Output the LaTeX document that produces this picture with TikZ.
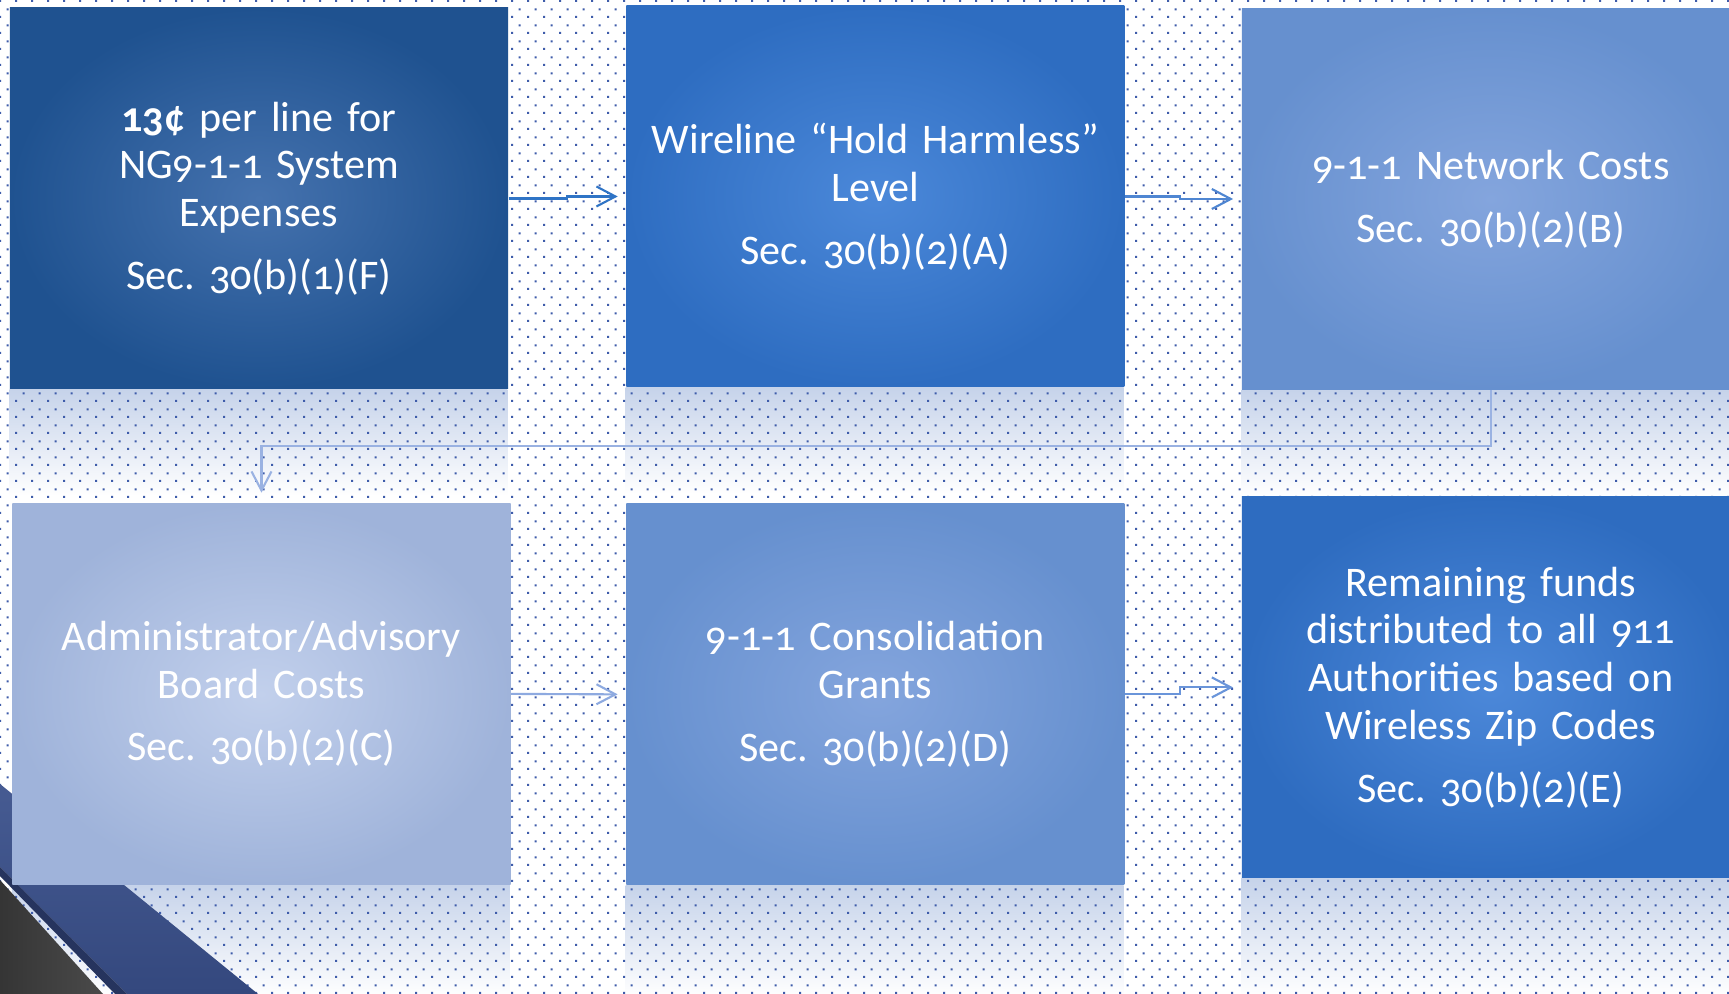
\documentclass[tikz,border=0pt]{standalone}
\usepackage{fontspec}
\setmainfont{Carlito}[Numbers=OldStyle, WordSpace=0.9]
\frenchspacing
\usetikzlibrary{arrows.meta}
\usetikzlibrary{positioning}
\usetikzlibrary{patterns.meta}
\usetikzlibrary{backgrounds}

\definecolor{dotblue}{HTML}{3E5CAA}
\definecolor{reflect}{HTML}{C6D3EA}
\definecolor{bandnavyA}{HTML}{465B92}
\definecolor{bandnavyB}{HTML}{34487E}
\definecolor{banddark}{HTML}{26345E}
\definecolor{cornergrayA}{HTML}{353535}
\definecolor{cornergrayB}{HTML}{4A4A4A}
\definecolor{arrowA}{HTML}{2F74C6}
\definecolor{arrowB}{HTML}{4F86D2}
\definecolor{arrowC}{HTML}{9AB2E2}
\definecolor{arrowD}{HTML}{8EAAE0}
\definecolor{arrowE}{HTML}{6A95DA}

\tikzdeclarepattern{
  name=slidedots,
  type=uncolored,
  bounding box={(0,0) and (0.16,0.16)},
  tile size={(0.16,0.16)},
  code={
    \fill (0,0) rectangle (0.022,0.022);
    \fill (0.08,0.08) rectangle (0.102,0.102);
  }
}

\begin{document}
\begin{tikzpicture}[
    node distance=1.15cm,  % gaps between the boxes
    fundbox/.style={
        rectangle,
        minimum width=4.98cm,
        minimum height=3.81cm,
        text width=4.9cm,
        inner sep=0pt,
        align=center,
        text=white,
        font=\fontsize{12}{13.6}\selectfont
    },
    link/.style={
        -{Straight Barb[length=0.19cm,width=0.2cm]},
        line width=0.6pt,
        shorten >=0.08cm
    },
    mirror/.style={top color=reflect, bottom color=white}
]
    \path[use as bounding box] (0,0) rectangle (17.29,-9.94);

    \node (fixed) [fundbox, inner color={rgb,255:red,69;green,114;blue,174}, outer color={rgb,255:red,31;green,82;blue,144}] at (2.59,-1.985)
        {\textbf{13¢} per line for\\ NG9-1-1 System\\ Expenses\\[0.15cm] Sec. 30(b)(1)(F)};
    \node (holdharm) [fundbox, inner color={rgb,255:red,75;green,136;blue,217}, outer color={rgb,255:red,46;green,109;blue,193}, right=1.17cm of fixed, yshift=0.02cm]
        {Wireline “Hold Harmless”\\ Level\\[0.15cm] Sec. 30(b)(2)(A)};
    \node (network) [fundbox, inner color={rgb,255:red,132;green,165;blue,221}, outer color={rgb,255:red,102;green,144;blue,207}, right=1.16cm of holdharm, yshift=-0.025cm]
        {9-1-1 Network Costs\\[0.15cm] Sec. 30(b)(2)(B)};
    \node (admin) [fundbox, inner color={rgb,255:red,194;green,208;blue,236}, outer color={rgb,255:red,159;green,179;blue,218}, below=1.13cm of fixed, xshift=0.025cm]
        {Administrator/Advisory\\ Board Costs\\[0.15cm] Sec. 30(b)(2)(C)};
    \node (consol) [fundbox, inner color={rgb,255:red,132;green,165;blue,221}, outer color={rgb,255:red,102;green,144;blue,207}, below=1.155cm of holdharm]
        {9-1-1 Consolidation\\ Grants\\[0.15cm] Sec. 30(b)(2)(D)};
    \node (remaining) [fundbox, inner color={rgb,255:red,76;green,136;blue,217}, outer color={rgb,255:red,46;green,108;blue,192}, below=1.06cm of network]
        {Remaining funds\\ distributed to all 911\\ Authorities based on\\ Wireless Zip Codes\\[0.15cm] Sec. 30(b)(2)(E)};

    % Connections
    \draw[link, draw=arrowA] (fixed.east) -- ++(0.58,0) |- (holdharm.west);
    \draw[link, draw=arrowB] (holdharm.east) -- ++(0.55,0) |- (network.west);
    \draw[link, draw=arrowC, shorten >=0.1cm] (network.south) -- ++(0,-0.56) -| (admin.north);
    \draw[link, draw=arrowD] (admin.east) -- (consol.west);
    \draw[link, draw=arrowE] (consol.east) -- ++(0.55,0) |- (remaining.west);

    \begin{scope}[on background layer]
        \fill[white] (0,0) rectangle (17.29,-9.94);
        % reflections under the boxes
        \shade[mirror] (fixed.south west) rectangle ++(4.98,-1.06);
        \shade[mirror] (holdharm.south west) rectangle ++(4.98,-1.06);
        \shade[mirror] (network.south west) rectangle ++(4.98,-1.06);
        \shade[mirror] (admin.south west) rectangle ++(4.98,-1.12);
        \shade[mirror] (consol.south west) rectangle ++(4.98,-1.12);
        \shade[mirror] (remaining.south west) rectangle ++(4.98,-1.18);
        \fill[pattern=slidedots, pattern color=dotblue] (0,0) rectangle (17.29,-9.94);
        % corner bands
        \shade[top color=bandnavyA, bottom color=bandnavyB] (0,-7.84) -- (2.58,-9.94) -- (1.27,-9.94) -- (0,-8.67) -- cycle;
        \fill[banddark] (0,-8.67) -- (1.27,-9.94) -- (1.15,-9.94) -- (0,-8.76) -- cycle;
        \shade[left color=cornergrayA, right color=cornergrayB] (0,-8.80) -- (1.03,-9.94) -- (0,-9.94) -- cycle;
    \end{scope}
\end{tikzpicture}
\end{document}
